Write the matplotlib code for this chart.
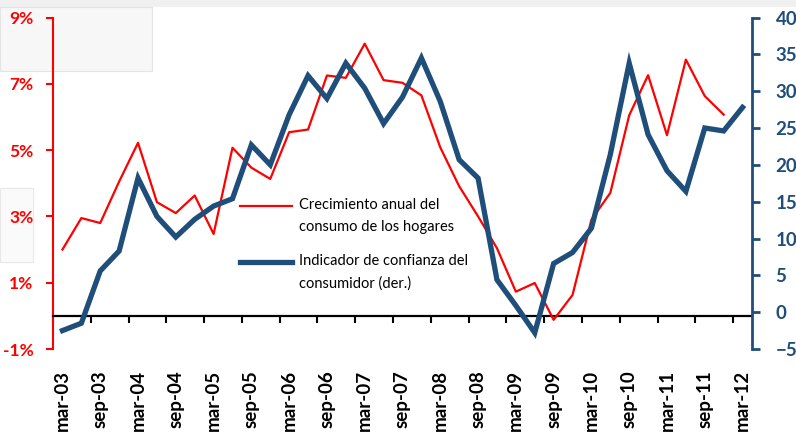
import matplotlib
matplotlib.use("Agg")
import matplotlib.pyplot as plt
from matplotlib.lines import Line2D
from matplotlib.patches import Rectangle
import numpy as np

# quarterly categories, mar-03 .. mar-12
quarters = ["mar", "jun", "sep", "dec"]
categories = ["%s-%02d" % (quarters[i % 4], 3 + i // 4) for i in range(37)]

# annual growth of household consumption (%), mar-03 .. dec-11
consumo = [2.0, 2.95, 2.8, 4.05, 5.22, 3.43, 3.1, 3.63, 2.47, 5.07,
           4.47, 4.13, 5.54, 5.62, 7.25, 7.18, 8.21, 7.11, 7.03, 6.65,
           5.08, 3.91, 3.0, 2.04, 0.73, 0.99, -0.12, 0.63, 2.9, 3.71,
           6.05, 7.26, 5.45, 7.73, 6.63, 6.07]

# consumer confidence indicator (right axis), mar-03 .. mar-12
confianza = [-2.5, -1.5, 5.6, 8.3, 18.2, 13.0, 10.2, 12.6, 14.4, 15.4,
             22.7, 20.0, 26.8, 32.1, 29.0, 33.8, 30.4, 25.6, 29.2, 34.5,
             28.6, 20.7, 18.2, 4.4, 0.9, -2.8, 6.6, 8.1, 11.4, 21.4,
             33.8, 24.1, 19.2, 16.4, 25.0, 24.6, 27.8]

left_ticks = [-1, 1, 3, 5, 7, 9]
right_ticks = [-5, 0, 5, 10, 15, 20, 25, 30, 35, 40]

RED = "#ff0000"
NAVY = "#1f4e7a"
plt.rcParams["font.family"] = ["Lato", "DejaVu Sans"]

fig = plt.figure(figsize=(7.96, 4.41), dpi=100)

# faint screenshot boxes in the background
fig.patches.append(Rectangle((0, 1 - 7 / 441), 1, 7 / 441, transform=fig.transFigure,
                             facecolor="#f0f0f0", edgecolor="none", zorder=-5))
fig.patches.append(Rectangle((0, 1 - 71 / 441), 152 / 796, 64 / 441, transform=fig.transFigure,
                             facecolor="#f7f7f7", edgecolor="#e4e4e4", lw=0.8, zorder=-5))
fig.patches.append(Rectangle((0, 1 - 262 / 441), 33 / 796, 74 / 441, transform=fig.transFigure,
                             facecolor="#fafafa", edgecolor="#e8e8e8", lw=0.8, zorder=-5))

ax = fig.add_axes([53 / 796, 1 - 349 / 441, (752 - 53) / 796, (349 - 17.5) / 441])
ax.patch.set_alpha(0)
ax2 = ax.twinx()

x = np.arange(len(categories))
ax.plot(x[:len(consumo)], consumo, color=RED, lw=1.6, zorder=3)
ax2.plot(x[:len(confianza)], confianza, color=NAVY, lw=3.8, solid_joinstyle="miter", zorder=3)

ax.set_xlim(-0.5, len(categories) - 0.5)
ax.set_ylim(-1, 9)
ax2.set_ylim(-5, 40)

# left axis
ax.set_yticks(left_ticks)
ax.set_yticklabels(["%d%%" % v for v in left_ticks])
ax.tick_params(axis="y", colors=RED, length=5, width=1.5, pad=9, labelsize=12.5)
for lab in ax.get_yticklabels():
    lab.set_fontweight("bold")
ax.spines["left"].set_color(RED)
ax.spines["left"].set_linewidth(1.5)
ax.spines["top"].set_visible(False)
ax.spines["right"].set_visible(False)

# zero line with tick marks between categories
ax.spines["bottom"].set_position(("data", 0))
ax.spines["bottom"].set_color("black")
ax.spines["bottom"].set_linewidth(1.6)
ax.set_xticks(x[::2])
ax.set_xticklabels(categories[::2], rotation=90)
ax.set_xticks(np.arange(-0.5, len(categories) - 1, 2), minor=True)
ax.tick_params(axis="x", which="major", length=0, pad=39, labelsize=13.5, colors="black")
ax.tick_params(axis="x", which="minor", length=5, width=1.5, direction="out", colors="black")
for lab in ax.get_xticklabels():
    lab.set_fontweight("bold")

# right axis
ax2.set_yticks(right_ticks)
ax2.tick_params(axis="y", colors=NAVY, length=6, width=2, pad=11, labelsize=13.5)
for lab in ax2.get_yticklabels():
    lab.set_fontweight("bold")
for s in ["top", "left", "bottom"]:
    ax2.spines[s].set_visible(False)
ax2.spines["right"].set_color(NAVY)
ax2.spines["right"].set_linewidth(2)

# legend drawn by hand so the line sits on the first text row
fig.lines.append(Line2D([240 / 796, 292 / 796], [1 - 206 / 441] * 2, transform=fig.transFigure,
                        color=RED, lw=1.6))
fig.lines.append(Line2D([240 / 796, 292 / 796], [1 - 262 / 441] * 2, transform=fig.transFigure,
                        color=NAVY, lw=3.8))
fig.text(299 / 796, 1 - 198 / 441, "Crecimiento anual del\nconsumo de los hogares",
         fontsize=10.5, color="black", va="top", ha="left", linespacing=1.7)
fig.text(299 / 796, 1 - 254 / 441, "Indicador de confianza del\nconsumidor (der.)",
         fontsize=10.5, color="black", va="top", ha="left", linespacing=1.7)

fig.savefig("out.png", dpi=100)
